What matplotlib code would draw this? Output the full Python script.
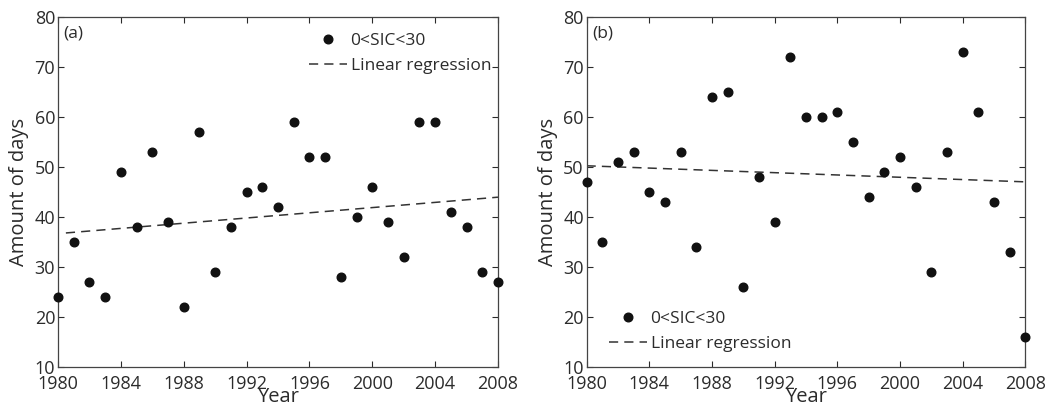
import numpy as np
import matplotlib.pyplot as plt

plt.rcParams['font.family'] = ['Open Sans', 'DejaVu Sans']

years = np.arange(1980, 2009)

# days with 0<SIC<30, two regions
days_a = [24, 35, 27, 24, 49, 38, 53, 39, 22, 57, 29, 38, 45, 46, 42,
          59, 52, 52, 28, 40, 46, 39, 32, 59, 59, 41, 38, 29, 27]
days_b = [47, 35, 51, 53, 45, 43, 53, 34, 64, 65, 26, 48, 39, 72, 60,
          60, 61, 55, 44, 49, 52, 46, 29, 53, 73, 61, 43, 33, 16]

panel_tags = ['(a)', '(b)']
legend_locs = [('upper right', (1.0, 0.975)), ('lower left', (0.035, 0.022))]
line_start = [1980.5, 1980.0]

txt = '#2b2b2b'
fig = plt.figure(figsize=(10.55, 4.11), dpi=100)
positions = [[0.055, 0.107, 0.417, 0.852], [0.556, 0.107, 0.416, 0.852]]

for pos, days, tag, (loc, anchor), x0 in zip(positions, [days_a, days_b],
                                             panel_tags, legend_locs,
                                             line_start):
    ax = fig.add_axes(pos)
    ax.plot(years, days, 'o', color='#111111', ms=6.2, label='0<SIC<30',
            clip_on=False, zorder=3)
    k, b = np.polyfit(years, days, 1)
    xl = np.array([x0, 2008])
    ax.plot(xl, k * xl + b, '--', color='#333333', lw=1.1, dashes=(6, 4),
            label='Linear regression')
    ax.set_xlim(1980, 2008)
    ax.set_ylim(10, 80)
    ax.set_xticks(np.arange(1980, 2009, 4))
    ax.set_yticks(np.arange(10, 81, 10))
    ax.tick_params(direction='in', length=4, width=0.8, top=True, right=True,
                   labelsize=13, colors=txt, pad=2)
    ax.tick_params(axis='x', pad=5.5)
    for s in ax.spines.values():
        s.set_color('#444444')
        s.set_linewidth(0.9)
    ax.set_xlabel('Year', fontsize=14.5, color=txt, labelpad=-4)
    ax.set_ylabel('Amount of days', fontsize=14.5, color=txt, labelpad=4)
    ax.text(0.012, 0.975, tag, transform=ax.transAxes, fontsize=12.5,
            color=txt, va='top', ha='left')
    leg = ax.legend(loc=loc, bbox_to_anchor=anchor, frameon=False,
                    fontsize=12.5, handlelength=2.2, handletextpad=0.2,
                    borderaxespad=0.0, labelspacing=0.55)
    for t in leg.get_texts():
        t.set_color(txt)

fig.savefig('out.png', dpi=100)
